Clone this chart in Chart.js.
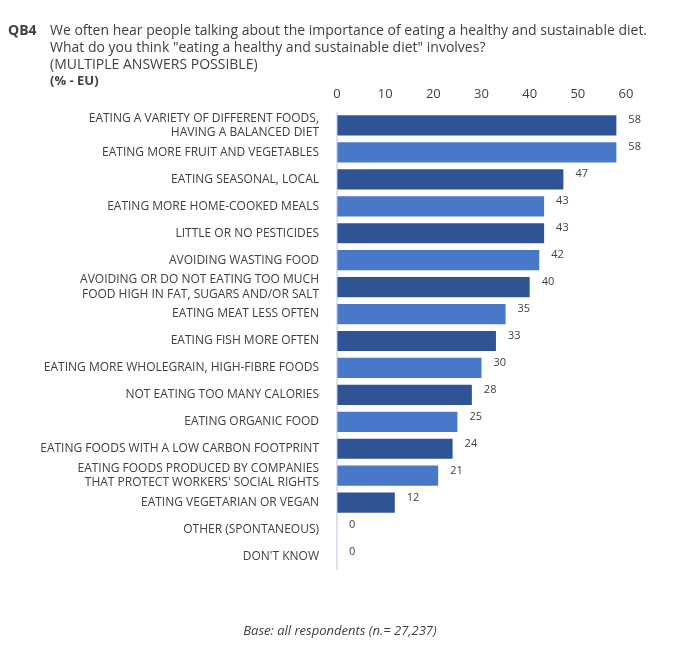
<!DOCTYPE html>
<html lang="en">
<head>
  <meta charset="UTF-8">
  <title>QB4</title>
  <script src="https://cdn.jsdelivr.net/npm/chart.js"></script>
  <style>
    body, html { margin: 0; padding: 0; background: #fff; }
    #wrap { width: 692px; height: 646px; }
  </style>
</head>
<body>
  <div id="wrap"><canvas id="grafico"></canvas></div>
  <script>
    const categorias = [
      ["EATING A VARIETY OF DIFFERENT FOODS,", "HAVING A BALANCED DIET"],
      "EATING MORE FRUIT AND VEGETABLES",
      "EATING SEASONAL, LOCAL",
      "EATING MORE HOME-COOKED MEALS",
      "LITTLE OR NO PESTICIDES",
      "AVOIDING WASTING FOOD",
      ["AVOIDING OR DO NOT EATING TOO MUCH", "FOOD HIGH IN FAT, SUGARS AND/OR SALT"],
      "EATING MEAT LESS OFTEN",
      "EATING FISH MORE OFTEN",
      "EATING MORE WHOLEGRAIN, HIGH-FIBRE FOODS",
      "NOT EATING TOO MANY CALORIES",
      "EATING ORGANIC FOOD",
      "EATING FOODS WITH A LOW CARBON FOOTPRINT",
      ["EATING FOODS PRODUCED BY COMPANIES", "THAT PROTECT WORKERS' SOCIAL RIGHTS"],
      "EATING VEGETARIAN OR VEGAN",
      "OTHER (SPONTANEOUS)",
      "DON'T KNOW"
    ];
    const valores = [58, 58, 47, 43, 43, 42, 40, 35, 33, 30, 28, 25, 24, 21, 12, 0, 0];
    const ticksX = [0, 10, 20, 30, 40, 50, 60];

    const colores = valores.map((v, i) => i % 2 === 0 ? "#2f5496" : "#4a78c9");
    const fuente = "'Open Sans', 'Noto Sans', sans-serif";

    const textos = {
      id: "textos",
      afterDraw(chart) {
        const c = chart.ctx;
        c.save();
        c.fillStyle = "#404040";
        c.textBaseline = "alphabetic";
        c.font = "bold 14px " + fuente;
        c.fillText("QB4", 8, 35);
        c.font = "14px " + fuente;
        c.fillText("We often hear people talking about the importance of eating a healthy and sustainable diet.", 50, 35);
        c.fillText("What do you think \"eating a healthy and sustainable diet\" involves?", 50, 52);
        c.fillText("(MULTIPLE ANSWERS POSSIBLE)", 50, 69);
        c.font = "bold 13px " + fuente;
        c.fillText("(% - EU)", 50, 85);
        c.font = "italic 13px " + fuente;
        c.textAlign = "center";
        c.fillText("Base: all respondents (n.= 27,237)", 340, 635);
        // value labels
        const meta = chart.getDatasetMeta(0);
        c.font = "11px " + fuente;
        c.textAlign = "left";
        meta.data.forEach((bar, i) => {
          c.fillText(String(valores[i]), bar.x + 12, bar.y - 2);
        });
        // zero line
        const x0 = chart.scales.x.getPixelForValue(0);
        c.strokeStyle = "#b4c6e7";
        c.beginPath();
        c.moveTo(x0, chart.chartArea.top);
        c.lineTo(x0, chart.chartArea.bottom);
        c.stroke();
        c.restore();
      }
    };

    new Chart(document.getElementById("grafico"), {
      type: "bar",
      data: {
        labels: categorias,
        datasets: [{
          data: valores,
          backgroundColor: colores,
          barPercentage: 0.75,
          categoryPercentage: 1
        }]
      },
      options: {
        indexAxis: "y",
        responsive: true,
        maintainAspectRatio: false,
        animation: false,
        layout: { padding: { left: 0, right: 66, top: 0, bottom: 76 } },
        plugins: { legend: { display: false }, tooltip: { enabled: false } },
        scales: {
          x: {
            position: "top",
            min: 0, max: 60,
            afterBuildTicks: s => { s.ticks = ticksX.map(v => ({ value: v })); },
            afterFit: s => { s.height = 112; },
            grid: { display: false },
            border: { display: false },
            ticks: { color: "#404040", font: { family: fuente, size: 13 }, padding: 2 }
          },
          y: {
            afterFit: s => { s.width = 337; },
            grid: { display: false },
            border: { display: false },
            ticks: { color: "#404040", font: { family: fuente, size: 12 }, padding: 10, autoSkip: false }
          }
        }
      },
      plugins: [textos]
    });
  </script>
</body>
</html>
